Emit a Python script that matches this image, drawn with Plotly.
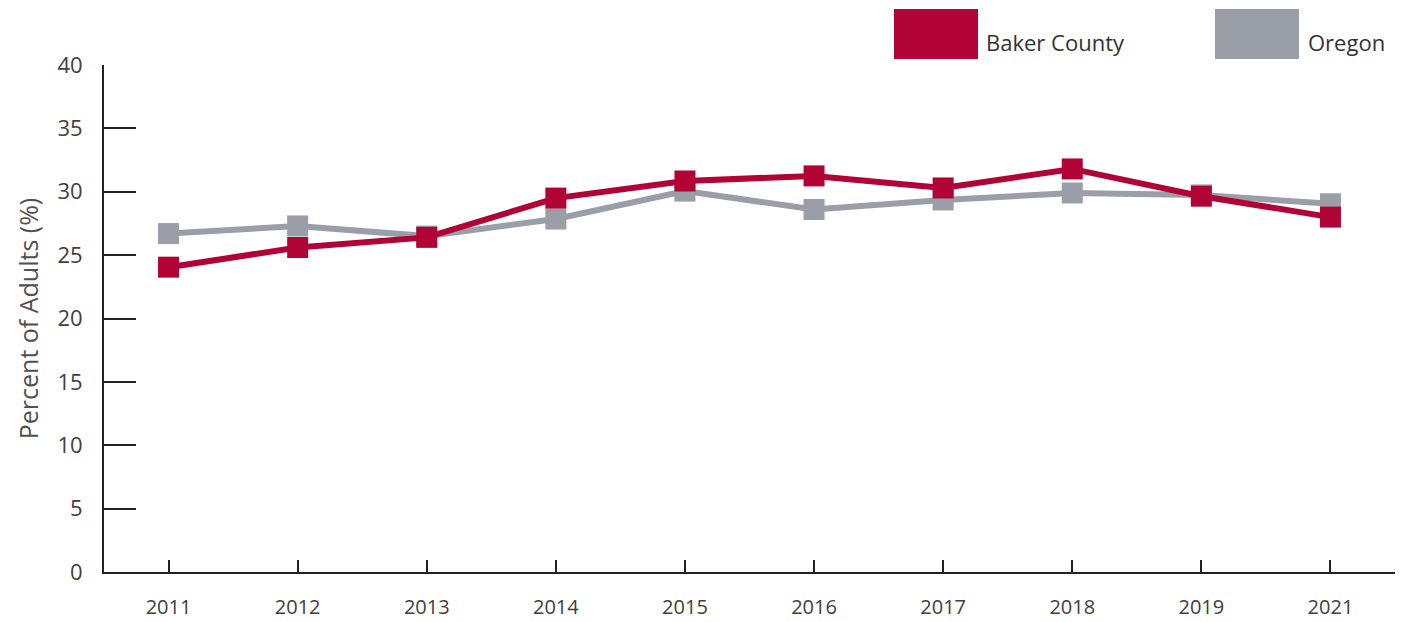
import plotly.graph_objects as go

years = ["2011", "2012", "2013", "2014", "2015", "2016", "2017", "2018", "2019", "2021"]
baker = [24.05, 25.6, 26.4, 29.5, 30.85, 31.25, 30.3, 31.8, 29.65, 28.0]
oregon = [26.7, 27.3, 26.5, 27.85, 30.05, 28.6, 29.35, 29.9, 29.75, 29.05]
series_names = ["Baker County", "Oregon"]
red = "#B10335"
grey = "#9A9EA6"
FONT = "Open Sans"

fig = go.Figure()
fig.add_trace(go.Scatter(x=years, y=oregon, name=series_names[1], mode="lines+markers",
                         line=dict(color=grey, width=6),
                         marker=dict(symbol="square", size=21, color=grey)))
fig.add_trace(go.Scatter(x=years, y=baker, name=series_names[0], mode="lines+markers",
                         line=dict(color=red, width=6),
                         marker=dict(symbol="square", size=21, color=red)))

PW, PH = 1291, 507
# custom legend with large swatches
fig.add_shape(type="rect", xref="paper", yref="paper", x0=(894-104)/PW, x1=(978-104)/PW,
              y0=(572-59)/PH, y1=(572-9)/PH, fillcolor=red, line_width=0)
fig.add_shape(type="rect", xref="paper", yref="paper", x0=(1215-104)/PW, x1=(1299-104)/PW,
              y0=(572-59)/PH, y1=(572-9)/PH, fillcolor=grey, line_width=0)
fig.add_annotation(text=series_names[0], xref="paper", yref="paper", x=(984-104)/PW, y=(572-42)/PH,
                   xanchor="left", yanchor="middle", showarrow=False,
                   font=dict(family=FONT, size=22, color="#333333"))
fig.add_annotation(text=series_names[1], xref="paper", yref="paper", x=(1306-104)/PW, y=(572-42)/PH,
                   xanchor="left", yanchor="middle", showarrow=False,
                   font=dict(family=FONT, size=22, color="#333333"))

fig.update_layout(
    template="none",
    width=1408, height=622,
    margin=dict(l=104, r=13, t=65, b=50, pad=0),
    paper_bgcolor="white", plot_bgcolor="white",
    showlegend=False,
    font=dict(family=FONT, color="#404040"),
    xaxis=dict(type="category", range=[-0.5, 9.5], showgrid=False, zeroline=False, automargin=False,
               showline=True, linecolor="#222222", linewidth=2,
               ticks="inside", ticklen=12, tickwidth=2, tickcolor="#222222",
               tickfont=dict(family=FONT, size=20, color="#404040"), ticklabelstandoff=16),
    yaxis=dict(range=[0, 40], dtick=5, showgrid=False, zeroline=False, automargin=False,
               showline=True, linecolor="#222222", linewidth=2,
               ticks="inside", ticklen=32, tickwidth=2, tickcolor="#222222",
               tickfont=dict(family=FONT, size=22, color="#404040"), ticklabelstandoff=15,
               title=dict(text="Percent of Adults (%)", font=dict(family=FONT, size=25, color="#505050"),
                          standoff=12)),
)

fig.write_html("out.html", config={"displayModeBar": False},
               post_script="document.body.style.margin='0';document.body.style.overflow='hidden';")
